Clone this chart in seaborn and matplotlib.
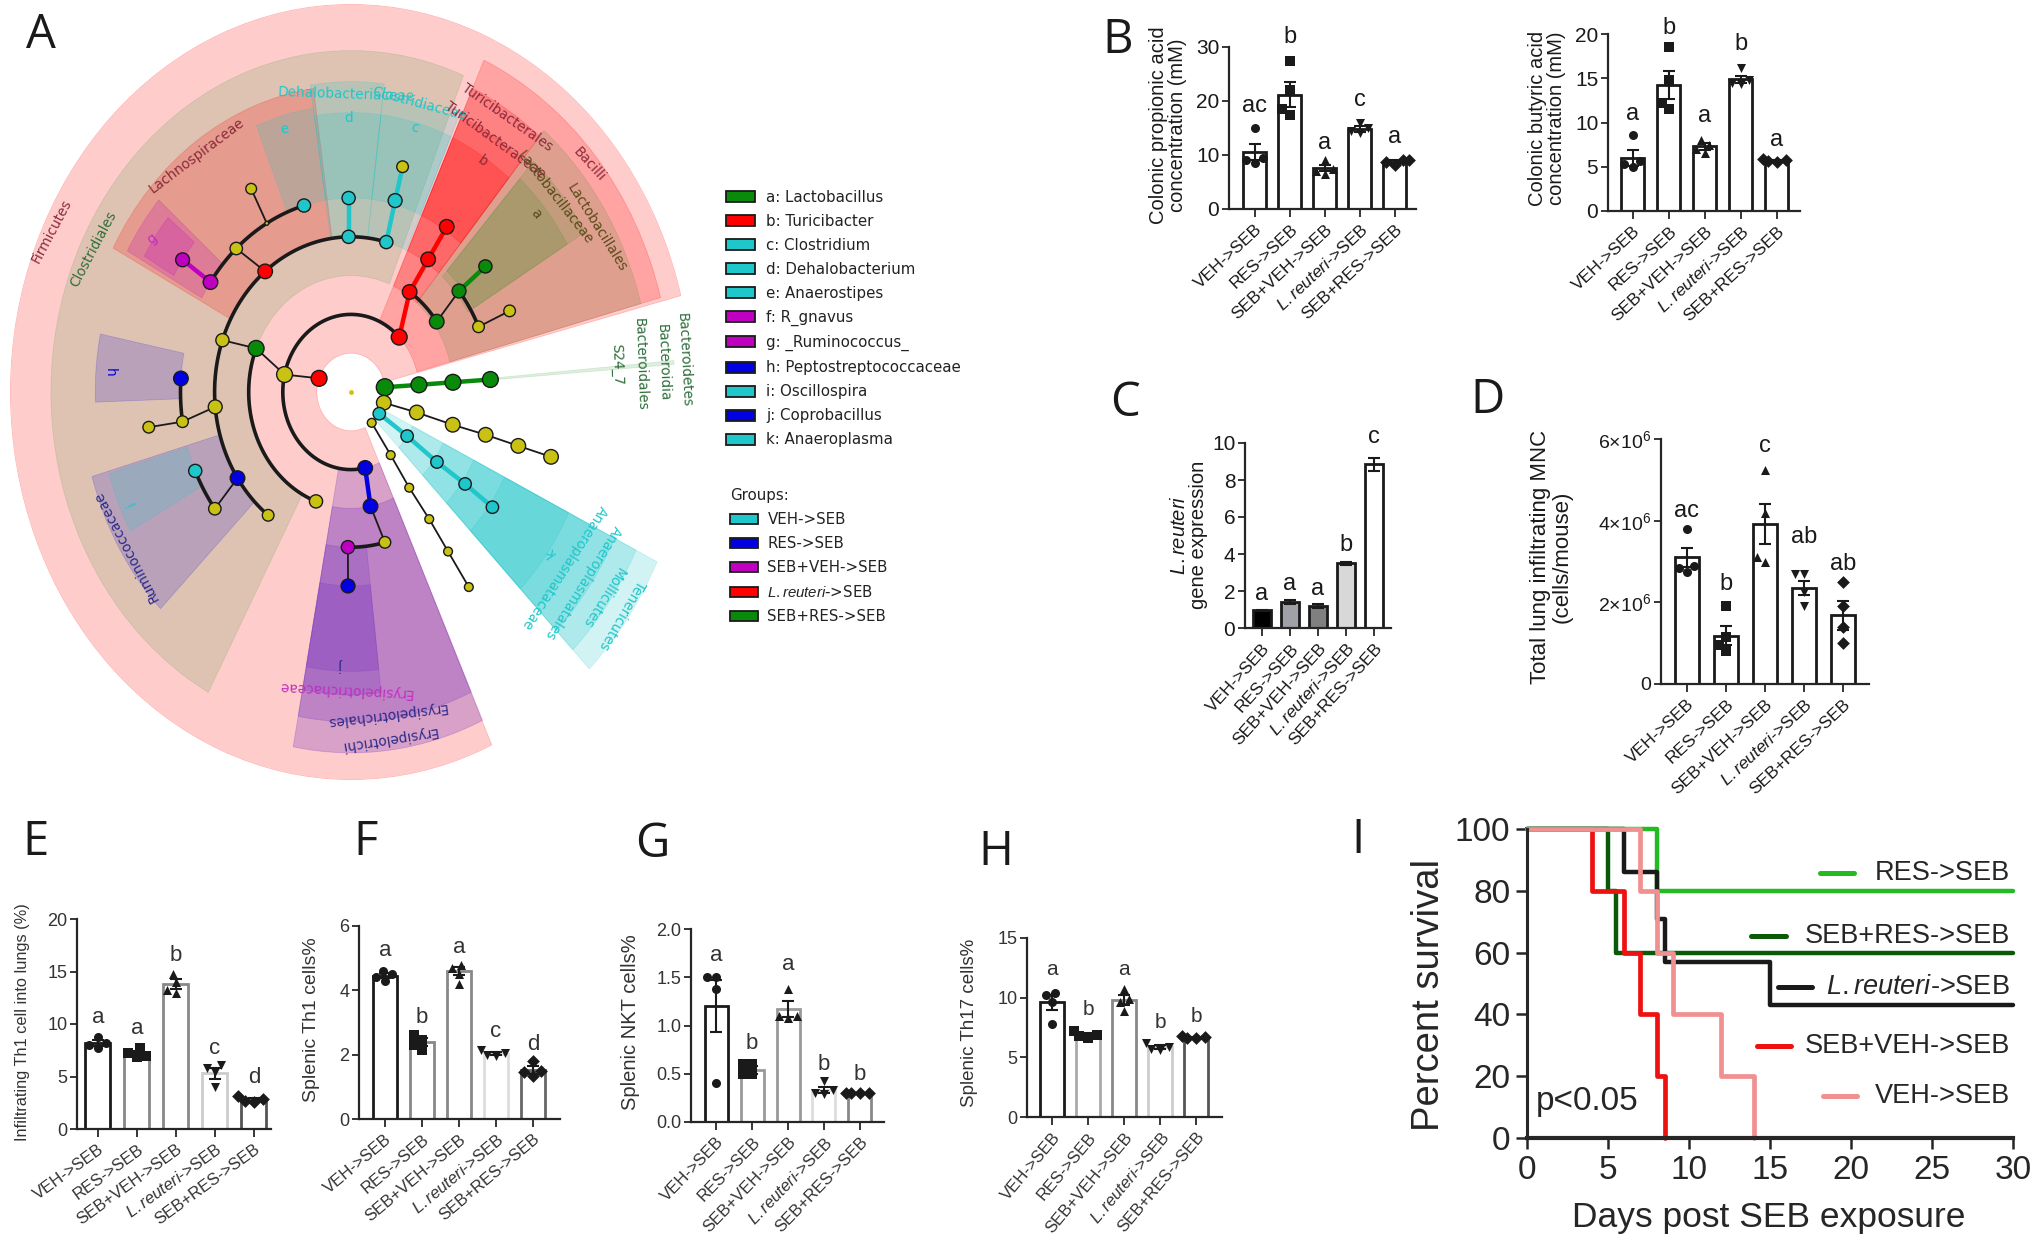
#!/usr/bin/env python
# -*- coding: utf-8 -*-

import numpy as np
import matplotlib
matplotlib.use('Agg')
import matplotlib.pyplot as plt
from matplotlib.patches import Patch
import seaborn as sns

## =============================== ##

W, H = 2040, 1249

sns.set_theme(style='ticks')
plt.rcParams['font.family'] = ['Liberation Sans', 'DejaVu Sans']
plt.rcParams['mathtext.fontset'] = 'custom'
plt.rcParams['mathtext.rm'] = 'Liberation Sans'
plt.rcParams['mathtext.it'] = 'Liberation Sans:italic'
plt.rcParams['mathtext.bf'] = 'Liberation Sans:bold'

RED, GREEN, TEAL = '#ff0000', '#0a8a0a', '#1fc6ca'
MAGENTA, BLUE, YELLOW = '#c000c0', '#0000e0', '#c9c215'
PURPLE = '#8040c0'

## =============================== ##
## bar panels

groups = ['VEH->SEB', 'RES->SEB', 'SEB+VEH->SEB', r'$\mathit{L.reuteri}$->SEB', 'SEB+RES->SEB']
markers = ['o', 's', '^', 'v', 'D']

b1_means = [10.5, 21.2, 7.6, 14.8, 8.7]
b1_sem = [1.5, 2.4, 0.5, 0.5, 0.3]
b1_points = [[15, 9.5, 9, 8.5], [27.5, 22, 18.5, 17.5], [9, 7.5, 7, 6.5], [16, 15, 14.5, 14], [9, 9, 8.7, 8.2]]
b1_letters = ['ac', 'b', 'a', 'c', 'a']
b1_letter_y = [19.0, 31.8, 12.3, 20.2, 13.3]

b2_means = [6, 14.2, 7.3, 14.9, 5.7]
b2_sem = [0.9, 1.6, 0.4, 0.4, 0.1]
b2_points = [[8.6, 5.7, 5.3, 5], [18.5, 14.8, 12.2, 11.5], [8, 7.5, 7, 6.6], [16.2, 14.8, 14.5, 14.3], [5.9, 5.8, 5.6, 5.5]]
b2_letters = ['a', 'b', 'a', 'b', 'a']
b2_letter_y = [11.0, 20.7, 10.7, 18.9, 8.0]

c_means = [0.95, 1.4, 1.2, 3.5, 8.85]
c_sem = [0.05, 0.1, 0.12, 0.08, 0.35]
c_letters = ['a', 'a', 'a', 'b', 'c']
c_letter_y = [1.85, 2.4, 2.1, 4.5, 10.3]
c_fills = ['#000000', '#a0a0a8', '#808080', '#d8d8d8', '#ffffff']

d_means = [3.1e6, 1.18e6, 3.92e6, 2.35e6, 1.68e6]
d_sem = [0.23e6, 0.23e6, 0.5e6, 0.17e6, 0.35e6]
d_points = [[3.8e6, 2.9e6, 2.85e6, 2.75e6], [1.9e6, 1.15e6, 0.95e6, 0.8e6], [5.25e6, 4.2e6, 3.1e6, 3.0e6],
	[2.7e6, 2.7e6, 2.25e6, 1.9e6], [2.5e6, 1.9e6, 1.4e6, 1.0e6]]
d_letters = ['ac', 'b', 'c', 'ab', 'ab']
d_letter_y = [4.23e6, 2.45e6, 5.83e6, 3.6e6, 2.93e6]

e_means = [8.2, 7.2, 13.8, 5.3, 2.8]
e_sem = [0.3, 0.25, 0.45, 0.55, 0.15]
e_points = [[8.8, 8.2, 8, 7.7], [7.7, 7.2, 7, 6.9], [14.8, 14, 13.2, 13], [6.1, 5.8, 5.4, 4], [3.1, 2.9, 2.7, 2.6]]
e_letters = ['a', 'a', 'b', 'c', 'd']
e_letter_y = [10.6, 9.6, 16.5, 7.7, 4.9]

f_means = [4.45, 2.4, 4.6, 2.03, 1.52]
f_sem = [0.08, 0.12, 0.13, 0.04, 0.12]
f_points = [[4.6, 4.5, 4.4, 4.3], [2.6, 2.45, 2.3, 2.15], [4.8, 4.7, 4.5, 4.2], [2.15, 2.05, 2, 1.95], [1.8, 1.5, 1.45, 1.35]]
f_letters = ['a', 'b', 'a', 'c', 'd']
f_letter_y = [5.25, 3.17, 5.34, 2.72, 2.33]

g_means = [1.2, 0.54, 1.17, 0.33, 0.3]
g_sem = [0.27, 0.04, 0.08, 0.03, 0.001]
g_points = [[1.5, 1.5, 1.38, 0.4], [0.6, 0.6, 0.5, 0.5], [1.38, 1.1, 1.1, 1.08], [0.42, 0.33, 0.3, 0.29], [0.3, 0.3, 0.3, 0.3]]
g_letters = ['a', 'b', 'a', 'b', 'b']
g_letter_y = [1.73, 0.81, 1.63, 0.6, 0.49]

h_means = [9.6, 6.9, 9.8, 5.85, 6.65]
h_sem = [0.6, 0.15, 0.4, 0.15, 0.05]
h_points = [[10.4, 10.2, 9.6, 7.8], [7.2, 6.9, 6.8, 6.6], [10.7, 9.9, 9.6, 8.9], [6.2, 5.9, 5.7, 5.6], [6.8, 6.7, 6.6, 6.6]]
h_letters = ['a', 'b', 'a', 'b', 'b']
h_letter_y = [12.4, 9.0, 12.4, 7.9, 8.4]

## survival curves

res_days, res_surv = [0, 8, 30], [100, 80, 80]
sebres_days, sebres_surv = [0, 5, 5.5, 30], [100, 80, 60, 60]
reuteri_days, reuteri_surv = [0, 6, 8, 8.5, 15, 30], [100, 86, 71, 57, 43, 43]
sebveh_days, sebveh_surv = [0, 4, 6, 7, 8, 8.5], [100, 80, 60, 40, 20, 0]
veh_days, veh_surv = [0, 7, 8, 9, 12, 14], [100, 80, 60, 40, 20, 0]

## cladogram: shaded sectors (angles in degrees, radii as a share of the outer ring)

wedge_start = [14.4, 68, 98, 98.6, 83, 66, 83, 66, 138.7, 140, 168.5, 196, 196.5, 15, 15, 31, 31, 50, 50, 50,
	259.5, 259.5, 259.5, 259.5, 314.4, 314.4, 314.4, 314.4, 314.4, 4.3]
wedge_end = [294.4, 241.6, 152, 112, 98.6, 83, 98.6, 83, 151, 150, 182, 225, 209, 65.5, 50, 48, 48, 65.5, 65.5, 65.5,
	294.5, 294.5, 276.5, 276.5, 334, 334, 334, 334, 334, 4.9]
wedge_inner = [0.1, 0.3, 0.4, 0.5, 0.4, 0.4, 0.5, 0.5, 0.5, 0.6, 0.5, 0.4, 0.5, 0.2, 0.3, 0.4, 0.42, 0.3, 0.4, 0.5,
	0.2, 0.3, 0.4, 0.5, 0.1, 0.2, 0.3, 0.4, 0.5, 0.4]
wedge_outer = [1.0, 0.88, 0.79, 0.74, 0.8, 0.77, 0.72, 0.72, 0.75, 0.7, 0.75, 0.79, 0.74, 0.94, 0.88, 0.8, 0.74, 0.86, 0.78, 0.72,
	0.93, 0.85, 0.78, 0.72, 1.0, 0.93, 0.86, 0.78, 0.71, 0.95]
wedge_color = [RED, GREEN, RED, TEAL, TEAL, TEAL, TEAL, TEAL, MAGENTA, MAGENTA, BLUE, BLUE, TEAL, RED, GREEN, GREEN, GREEN, RED, RED, RED,
	PURPLE, PURPLE, PURPLE, PURPLE, TEAL, TEAL, TEAL, TEAL, TEAL, GREEN]
color_alpha = {RED: 0.2, GREEN: 0.13, TEAL: 0.2, MAGENTA: 0.2, BLUE: 0.17, PURPLE: 0.3}

## cladogram: nodes

node_theta = [159.4, 167, 45, 158, 160.5, 129, 185.5, 213.7, 250, 91, 75, 282, 35.8, 56.3, 56.5, 56.6, 39.4, 39.4, 24.2, 24.2,
	145.5, 145.4, 132.3, 119.6, 106, 119.2, 90.8, 75.3, 75.4, 176, 188.8, 188.7, 204, 217, 232.6, 281, 284.4, 268.7, 269,
	7, 5.3, 4.8, 4.5, 344, 344.7, 344.2, 344.4, 344.2, 344.1, 326, 325.4, 324.4, 324.7, 324.4,
	307.4, 305.6, 304.7, 305, 304.7, 304.5]
node_r = [0.1, 0.2, 0.2, 0.3, 0.4, 0.4, 0.4, 0.4, 0.3, 0.4, 0.4, 0.2, 0.31, 0.31, 0.41, 0.51, 0.41, 0.51, 0.41, 0.51,
	0.5, 0.6, 0.5, 0.5, 0.5, 0.6, 0.5, 0.51, 0.6, 0.5, 0.5, 0.6, 0.5, 0.5, 0.4, 0.3, 0.4, 0.4, 0.5,
	0.1, 0.2, 0.3, 0.41, 0.1, 0.2, 0.31, 0.41, 0.51, 0.61, 0.1, 0.2, 0.31, 0.41, 0.51,
	0.1, 0.2, 0.3, 0.4, 0.5, 0.61]
node_color = [RED, YELLOW, RED, GREEN, YELLOW, RED, YELLOW, BLUE, YELLOW, TEAL, TEAL, BLUE, GREEN, RED, RED, RED, GREEN, GREEN, YELLOW, YELLOW,
	MAGENTA, MAGENTA, YELLOW, YELLOW, TEAL, YELLOW, TEAL, TEAL, YELLOW, BLUE, YELLOW, YELLOW, TEAL, YELLOW, YELLOW, BLUE, YELLOW, MAGENTA, BLUE,
	GREEN, GREEN, GREEN, GREEN, YELLOW, YELLOW, YELLOW, YELLOW, YELLOW, YELLOW, TEAL, TEAL, TEAL, TEAL, TEAL,
	YELLOW, YELLOW, YELLOW, YELLOW, YELLOW, YELLOW]
node_size = [130, 130, 130, 130, 90, 110, 100, 110, 90, 90, 90, 110, 110, 110, 110, 110, 100, 90, 70, 70,
	110, 100, 80, 8, 90, 60, 90, 100, 70, 110, 70, 70, 90, 80, 70, 110, 70, 90, 100,
	150, 130, 130, 130, 110, 110, 110, 110, 110, 110, 80, 80, 80, 80, 80,
	40, 40, 40, 40, 40, 40]

## cladogram: arcs between siblings

arc_start = [45, 158, 129, 75, 106, 176, 204, 35.8, 24.2, 268.7]
arc_end = [282, 250, 232.6, 129, 145.5, 188.8, 217, 56.3, 39.4, 284.4]
arc_r = [0.2, 0.3, 0.4, 0.4, 0.5, 0.5, 0.5, 0.31, 0.41, 0.4]

## cladogram: branches, parent to child

branch_parent = [1, 3, 4, 2, 5, 23, 6, 30, 7, 9, 10, 27, 13, 14, 12, 16, 18, 20, 11, 35, 37,
	39, 40, 41, 43, 44, 45, 46, 47, 49, 50, 51, 52, 54, 55, 56, 57, 58]
branch_child = [0, 1, 3, 13, 22, 25, 30, 31, 33, 26, 27, 28, 14, 15, 16, 17, 19, 21, 35, 36, 38,
	40, 41, 42, 44, 45, 46, 47, 48, 50, 51, 52, 53, 55, 56, 57, 58, 59]
branch_color = ['k', 'k', 'k', RED, 'k', 'k', 'k', 'k', 'k', TEAL, TEAL, TEAL, RED, RED, 'k', GREEN, 'k', MAGENTA, BLUE, 'k', 'k',
	GREEN, GREEN, GREEN, 'k', 'k', 'k', 'k', 'k', TEAL, TEAL, TEAL, TEAL, 'k', 'k', 'k', 'k', 'k']

## cladogram: labels

DKRED, DKGREEN, NAVY, PINK = '#8a2a3a', '#2e6e3a', '#2a2a8a', '#c030c0'
clade_labels = ['Firmicutes', 'Clostridiales', 'Lachnospiraceae', 'Dehalobacteriaceae', 'Clostridiaceae', 'Turicibacterales',
	'Turicibacteraceae', 'Bacilli', 'Lactobacillales', 'Lactobacillaceae', 'a', 'b', 'c', 'd', 'e', 'g', 'h', 'i', 'j', 'k',
	'Ruminococcaceae', 'Erysipelotrichaceae', 'Erysipelotrichales', 'Erysipelotrichi', 'Anaeroplasmataceae', 'Anaeroplasmatales',
	'Mollicutes', 'Tenericutes', 'Bacteroidetes', 'Bacteroidia', 'Bacteroidales', 'S24_7']
label_theta = [154.7, 154, 126.6, 91, 75, 57, 57, 40, 30.4, 40, 40.3, 57, 74.6, 90.5, 106, 146, 176, 204, 267.7, 324.7,
	211, 268.6, 277, 277, 324.2, 324.2, 324.4, 324.2, 4.9, 4.8, 4.8, 5.2]
label_r = [0.97, 0.84, 0.758, 0.767, 0.77, 0.844, 0.775, 0.913, 0.835, 0.78, 0.71, 0.71, 0.705, 0.705, 0.704, 0.705, 0.708, 0.706, 0.703, 0.714,
	0.771, 0.767, 0.837, 0.9, 0.772, 0.84, 0.908, 0.98, 0.98, 0.919, 0.85, 0.784]
label_rot = [62, 62, 37, -2, -15, -35, -36, -48, -58, -52, -50, -35, -12, 0, 12, 40, -90, 115, 180, 125,
	118, 177, 187, 189, 237, 238, 238, 240, -87, -88, -88, -88]
label_color = [DKRED, DKGREEN, DKRED, TEAL, TEAL, DKRED, DKRED, DKRED, '#5a4a1a', '#5a4a1a', '#5a4a1a', DKRED, TEAL, TEAL, TEAL, PINK, BLUE, TEAL, NAVY, TEAL,
	NAVY, PINK, NAVY, NAVY, TEAL, TEAL, TEAL, TEAL, DKGREEN, DKGREEN, DKGREEN, DKGREEN]

genus_labels = ['a: Lactobacillus', 'b: Turicibacter', 'c: Clostridium', 'd: Dehalobacterium', 'e: Anaerostipes', 'f: R_gnavus',
	'g: _Ruminococcus_', 'h: Peptostreptococcaceae', 'i: Oscillospira', 'j: Coprobacillus', 'k: Anaeroplasma']
genus_colors = [GREEN, RED, TEAL, TEAL, TEAL, MAGENTA, MAGENTA, BLUE, TEAL, BLUE, TEAL]
group_colors = [TEAL, BLUE, MAGENTA, RED, GREEN]

panel_letters = ['A', 'B', 'C', 'D', 'E', 'F', 'G', 'H', 'I']
letter_px = [(41, 35), (1118, 40), (1125, 403), (1488, 400), (36, 842), (366, 842), (652, 844), (996, 852), (1358, 840)]

## =============================== ##

def px_axes(fig, left, right, top, bottom, **kwargs):
	return fig.add_axes([left / W, 1 - bottom / H, (right - left) / W, (bottom - top) / H], **kwargs)


def bar_panel(fig, box, centers, bar_px, ymax, yticks, means, sem, points, letters, letter_y,
		ylabel, ylabel_px, edges='k', fills='white', lab_size=14.5, tick_size=15, x_size=12.5, rot=43,
		letter_size=17, text_color='k', lw=2.):
	left, right, top, bottom = box
	ax = px_axes(fig, left, right, top, bottom)
	step = (centers[1] - centers[0])
	sns.barplot(x=groups, y=means, order=groups, ax=ax, color='white', width=bar_px / step,
		errorbar=None, saturation=1., linewidth=lw, edgecolor='k')
	for i, patch in enumerate(ax.patches):
		patch.set_edgecolor(edges if isinstance(edges, str) else edges[i])
		patch.set_facecolor(fills if isinstance(fills, str) else fills[i])
	ax.errorbar(range(5), means, yerr=sem, fmt='none', ecolor='k', elinewidth=1.5, capsize=4, capthick=1.5, zorder=4)
	if points is not None:
		for i, vals in enumerate(points):
			sns.swarmplot(x=[groups[i]] * len(vals), y=vals, order=groups, ax=ax, color='k',
				marker=markers[i], size=6.5, warn_thresh=1., zorder=5)
	for i, label in enumerate(letters):
		ax.text(i, letter_y[i], label, ha='center', va='center', fontsize=letter_size, color=text_color, clip_on=False)
	ax.set_xlim((left - centers[0]) / step, (right - centers[0]) / step)
	ax.set_ylim(0, ymax)
	ax.set_yticks(yticks)
	ax.set_xticks(range(5))
	ax.set_xticklabels(groups, rotation=rot, ha='right', rotation_mode='anchor', fontsize=x_size, color=text_color)
	ax.tick_params(axis='y', labelsize=tick_size, labelcolor=text_color, length=5, width=1.3, pad=2)
	ax.tick_params(axis='x', length=6, width=1.3, pad=3)
	ax.set_ylabel(ylabel, fontsize=lab_size, color=text_color, ha='center', va='center', linespacing=1.05)
	ax.yaxis.set_label_coords((ylabel_px[0] - left) / (right - left), (bottom - ylabel_px[1]) / (bottom - top))
	sns.despine(ax=ax)
	for side in ['left', 'bottom']:
		ax.spines[side].set_linewidth(1.6)
	return ax

## =============================== ##

fig = plt.figure(figsize=(W / 100, H / 100), dpi=100, facecolor='white')

## ============================================================== ##
## panel A

ax = px_axes(fig, 10, 692, 4, 780, projection='polar')
ax.set_aspect('auto')
ax.set_ylim(0, 1)
ax.axis('off')

for s, e, r0, r1, c in zip(wedge_start, wedge_end, wedge_inner, wedge_outer, wedge_color):
	ax.bar(np.radians((s + e) / 2.), r1 - r0, width=np.radians(e - s), bottom=r0, color=c, alpha=color_alpha[c], lw=0.6, edgecolor=c)

for s, e, r in zip(arc_start, arc_end, arc_r):
	ax.plot(np.radians(np.linspace(s, e, 80)), np.full(80, r), '-', color='k', lw=2.6, zorder=3, solid_capstyle='round')

for p, q, c in zip(branch_parent, branch_child, branch_color):
	lw = 1.3 if c == 'k' else 3.2
	ax.plot(np.radians([node_theta[p], node_theta[q]]), [node_r[p], node_r[q]], '-', color=c, lw=lw, zorder=3)

ax.scatter(np.radians(node_theta), node_r, s=node_size, c=node_color, edgecolors='k', linewidths=1., zorder=4)
ax.scatter([0.], [0.], s=6, c=YELLOW, zorder=4)

for label, th, r, rot, c in zip(clade_labels, label_theta, label_r, label_rot, label_color):
	ax.text(np.radians(th), r, label, rotation=rot, rotation_mode='anchor', ha='center', va='center',
		color=c, fontsize=9.8, family='DejaVu Sans')

leg = fig.legend(handles=[Patch(facecolor=c, edgecolor='k', lw=1.3) for c in genus_colors], labels=genus_labels,
	loc='upper left', bbox_to_anchor=(726 / W, 1 - 190 / H), frameon=False, handlelength=1.95, handleheight=0.75,
	labelspacing=0.6, handletextpad=0.72, borderpad=0., borderaxespad=0., prop={'family': 'DejaVu Sans', 'size': 10.8})
for t in leg.get_texts():
	t.set_color('#222222')

group_names = ['VEH->SEB', 'RES->SEB', 'SEB+VEH->SEB', r'$\mathit{L.reuteri}$->SEB', 'SEB+RES->SEB']
leg = fig.legend(handles=[Patch(facecolor=c, edgecolor='k', lw=1.3) for c in group_colors], labels=group_names,
	loc='upper left', bbox_to_anchor=(730 / W, 1 - 488 / H), frameon=False, handlelength=1.85, handleheight=0.65,
	labelspacing=0.6, handletextpad=0.65, borderpad=0., borderaxespad=0., title='Groups:', alignment='left',
	prop={'family': 'DejaVu Sans', 'size': 10.8}, title_fontproperties={'family': 'DejaVu Sans', 'size': 10.8})
for t in leg.get_texts():
	t.set_color('#222222')
leg.get_title().set_color('#222222')

## ============================================================== ##
## panels B to H

bar_panel(fig, (1229, 1416, 47, 209), [1255, 1290, 1324, 1359, 1394], 23, 30, [0, 10, 20, 30],
	b1_means, b1_sem, b1_points, b1_letters, b1_letter_y,
	'Colonic propionic acid\nconcentration (mM)', (1168, 125))
bar_panel(fig, (1608, 1800, 34, 211), [1633, 1669, 1704, 1740, 1776], 23, 20, [0, 5, 10, 15, 20],
	b2_means, b2_sem, b2_points, b2_letters, b2_letter_y,
	'Colonic butyric acid\nconcentration (mM)', (1547, 118))
bar_panel(fig, (1245, 1391, 443, 628), [1262, 1290, 1317, 1345, 1372], 18, 10, [0, 2, 4, 6, 8, 10],
	c_means, c_sem, None, c_letters, c_letter_y,
	'$\\mathit{L.reuteri}$\ngene expression', (1189, 535), fills=c_fills, x_size=12.5, rot=48)
ax_d = bar_panel(fig, (1661, 1869, 439, 684), [1687, 1726, 1765, 1804, 1843], 24, 6e6, [0, 2e6, 4e6, 6e6],
	d_means, d_sem, d_points, d_letters, d_letter_y,
	'Total lung infiltrating MNC\n(cells/mouse)', (1551, 557), tick_size=14, lab_size=16, rot=43)
ax_d.set_yticklabels(['0', '2×10$^{6}$', '4×10$^{6}$', '6×10$^{6}$'])
bar_panel(fig, (77, 271, 919, 1129), [98, 137, 175, 213.5, 252.6], 25, 20, [0, 5, 10, 15, 20],
	e_means, e_sem, e_points, e_letters, e_letter_y,
	'Infiltrating Th1 cell into lungs (%)', (23, 1022), edges=['k', '#888888', '#888888', '#cccccc', '#555555'],
	lab_size=11.8, tick_size=13, x_size=12, rot=36, letter_size=16, text_color='#333333')
bar_panel(fig, (359, 560, 926, 1119), [385, 422, 459, 497, 535], 24, 6, [0, 2, 4, 6],
	f_means, f_sem, f_points, f_letters, f_letter_y,
	'Splenic Th1 cells%', (311, 1020), edges=['k', '#888888', '#888888', '#dddddd', '#666666'],
	lab_size=14, tick_size=13, x_size=12, rot=40, letter_size=16, text_color='#333333')
bar_panel(fig, (691, 884, 929, 1122), [716, 752, 788, 823, 859], 23, 2.0, [0, 0.5, 1.0, 1.5, 2.0],
	g_means, g_sem, g_points, g_letters, g_letter_y,
	'Splenic NKT cells%', (630, 1022), edges=['k', '#999999', '#999999', '#dddddd', '#888888'],
	lab_size=14.5, tick_size=13, x_size=12, rot=46, letter_size=16, text_color='#333333')
bar_panel(fig, (1027, 1222, 938, 1117), [1052, 1088, 1125, 1161, 1197], 24, 15, [0, 5, 10, 15],
	h_means, h_sem, h_points, h_letters, h_letter_y,
	'Splenic Th17 cells%', (970, 1023), edges=['k', '#aaaaaa', '#888888', '#cccccc', '#555555'],
	lab_size=13.5, tick_size=13, x_size=12, rot=50, letter_size=15, text_color='#333333')

## ============================================================== ##
## panel I

ax = px_axes(fig, 1527, 2013, 829, 1138)
sns.lineplot(x=res_days, y=res_surv, drawstyle='steps-post', color='#22bb22', lw=3.2, estimator=None, ax=ax, clip_on=False)
sns.lineplot(x=sebres_days, y=sebres_surv, drawstyle='steps-post', color='#0a5a0a', lw=3.2, estimator=None, ax=ax, clip_on=False)
sns.lineplot(x=reuteri_days, y=reuteri_surv, drawstyle='steps-post', color='k', lw=3.2, estimator=None, ax=ax, clip_on=False)
sns.lineplot(x=sebveh_days, y=sebveh_surv, drawstyle='steps-post', color='#ee1111', lw=3.4, estimator=None, ax=ax, clip_on=False)
sns.lineplot(x=veh_days, y=veh_surv, drawstyle='steps-post', color='#f09090', lw=3.4, estimator=None, ax=ax, clip_on=False)
ax.set_xlim(0, 30)
ax.set_ylim(0, 100)
ax.set_xticks(range(0, 31, 5))
ax.set_yticks(range(0, 101, 20))
ax.tick_params(labelsize=24, length=8, width=1.8, pad=4)
ax.set_xlabel('Days post SEB exposure', fontsize=25.5, labelpad=0, ha='center', va='center')
ax.xaxis.set_label_coords((1769 - 1527) / 486., -(1217 - 1138) / 309.)
ax.set_ylabel('Percent survival', fontsize=27.5, ha='center', va='center')
ax.yaxis.set_label_coords((1429 - 1527) / 486., (1138 - 995) / 309.)
sns.despine(ax=ax)
ax.spines['left'].set_linewidth(2.2)
ax.spines['bottom'].set_linewidth(3.)

legend_names = ['RES->SEB', 'SEB+RES->SEB', r'$\mathit{L.reuteri}$->SEB', 'SEB+VEH->SEB', 'VEH->SEB']
legend_y = [85.6, 65.5, 49, 29.8, 13.7]
legend_x0 = [18.1, 13.8, 15.5, 14.2, 18.3]
legend_x1 = [20.2, 16.0, 17.6, 16.3, 20.4]
legend_col = ['#22bb22', '#0a5a0a', 'k', '#ee1111', '#f09090']
for name, y, x0, x1, c in zip(legend_names, legend_y, legend_x0, legend_x1, legend_col):
	ax.plot([x0, x1], [y, y], '-', color=c, lw=3.6)
	ax.text(29.8, y, name, ha='right', va='center', fontsize=19.5)
ax.text(0.55, 11.8, 'p<0.05', ha='left', va='center', fontsize=24)

## ============================================================== ##
## panel letters

for letter, (x, y) in zip(panel_letters, letter_px):
	fig.text(x / W, 1 - y / H, letter, ha='center', va='center', fontsize=34, family='Open Sans', color='k')

fig.savefig('out.png', dpi=100, facecolor='white')
